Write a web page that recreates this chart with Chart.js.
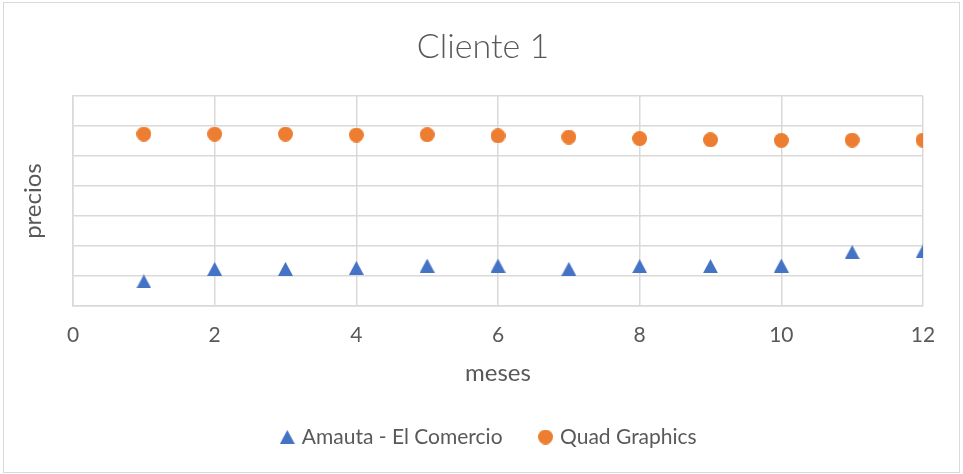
<!DOCTYPE html>
<html>
<head>
<meta charset="utf-8">
<script src="https://cdn.jsdelivr.net/npm/chart.js@4.4.1/dist/chart.umd.min.js"></script>
<style>
  html, body { margin: 0; padding: 0; background: #ffffff; }
  #frame { position: absolute; left: 3px; top: 2px; width: 955px; height: 469px; border: 1px solid #d9d9d9; background: #fff; }
  #c { display: block; }
</style>
</head>
<body>
<div id="frame"><canvas id="c" width="955" height="469"></canvas></div>
<script>
const months = [1, 2, 3, 4, 5, 6, 7, 8, 9, 10, 11, 12];
const amautaElComercio = [0.82, 1.24, 1.24, 1.27, 1.35, 1.35, 1.24, 1.33, 1.33, 1.35, 1.80, 1.82];
const quadGraphics = [5.73, 5.73, 5.73, 5.70, 5.71, 5.67, 5.63, 5.58, 5.54, 5.52, 5.53, 5.53];
const xTicks = [0, 2, 4, 6, 8, 10, 12];
const seriesNames = ['Amauta - El Comercio', 'Quad Graphics'];
const chartTitle = 'Cliente 1';
const xTitle = 'meses';
const yTitle = 'precios';

const BLUE = '#4472C4';
const ORANGE = '#ED7D31';
const TEXT = '#595959';
const GRID = '#d9d9d9';
const FONT = 'Lato, "Open Sans", sans-serif';

function triangleMarker(color) {
  const c = document.createElement('canvas');
  c.width = 15; c.height = 14;
  const ctx = c.getContext('2d');
  ctx.fillStyle = color;
  ctx.beginPath();
  ctx.moveTo(7.5, 0);
  ctx.lineTo(15, 14);
  ctx.lineTo(0, 14);
  ctx.closePath();
  ctx.fill();
  return c;
}
function circleMarker(color) {
  const c = document.createElement('canvas');
  c.width = 15; c.height = 15;
  const ctx = c.getContext('2d');
  ctx.fillStyle = color;
  ctx.beginPath();
  ctx.arc(7.5, 7.5, 7.5, 0, Math.PI * 2);
  ctx.fill();
  return c;
}
const tri = triangleMarker(BLUE);
const dot = circleMarker(ORANGE);

// shift title and legend to the right, as in the reference
const shiftBlocks = {
  id: 'shiftBlocks',
  afterLayout(chart) {
    if (chart.legend) { chart.legend.left += 19; chart.legend.right += 19; }
    if (chart.titleBlock) { chart.titleBlock.left += 12; chart.titleBlock.right += 12; }
  }
};

new Chart(document.getElementById('c'), {
  type: 'scatter',
  data: {
    datasets: [
      {
        label: seriesNames[0],
        data: months.map((m, i) => ({ x: m, y: amautaElComercio[i] })),
        pointStyle: tri,
        backgroundColor: BLUE,
        borderColor: BLUE,
        pointRadius: 8,
        pointHoverRadius: 8
      },
      {
        label: seriesNames[1],
        data: months.map((m, i) => ({ x: m, y: quadGraphics[i] })),
        pointStyle: dot,
        backgroundColor: ORANGE,
        borderColor: ORANGE,
        pointRadius: 8,
        pointHoverRadius: 8
      }
    ]
  },
  plugins: [shiftBlocks],
  options: {
    responsive: false,
    animation: false,
    devicePixelRatio: 1,
    layout: { padding: { left: 15, right: 36, top: 18, bottom: 14.5 } },
    plugins: {
      tooltip: { enabled: false },
      title: {
        display: true,
        text: chartTitle,
        color: TEXT,
        font: { family: FONT, size: 34, weight: '300' },
        padding: { top: 5.6, bottom: 28.6 }
      },
      legend: {
        position: 'bottom',
        labels: {
          usePointStyle: true,
          boxWidth: 8,
          boxHeight: 15,
          padding: 39,
          color: TEXT,
          font: { family: FONT, size: 21 }
        }
      }
    },
    scales: {
      x: {
        type: 'linear',
        min: 0,
        max: 12,
        afterBuildTicks: (axis) => { axis.ticks = xTicks.map(v => ({ value: v })); },
        afterFit: (axis) => { axis.height = 81.4; },
        ticks: { color: TEXT, font: { family: FONT, size: 21 }, padding: 16.5, maxRotation: 0 },
        grid: { color: GRID, lineWidth: 1.5, drawTicks: false },
        border: { color: GRID, width: 1.5 },
        title: { display: true, text: xTitle, color: TEXT, font: { family: FONT, size: 24 }, padding: { top: 0, bottom: 0 } }
      },
      y: {
        min: 0,
        max: 7,
        ticks: { display: false, stepSize: 1 },
        grid: { color: GRID, lineWidth: 1.5, drawTicks: false },
        border: { color: GRID, width: 1.5 },
        title: { display: true, text: yTitle, color: TEXT, font: { family: FONT, size: 24 }, padding: { top: 0, bottom: 25.2 } }
      }
    }
  }
});
</script>
</body>
</html>
